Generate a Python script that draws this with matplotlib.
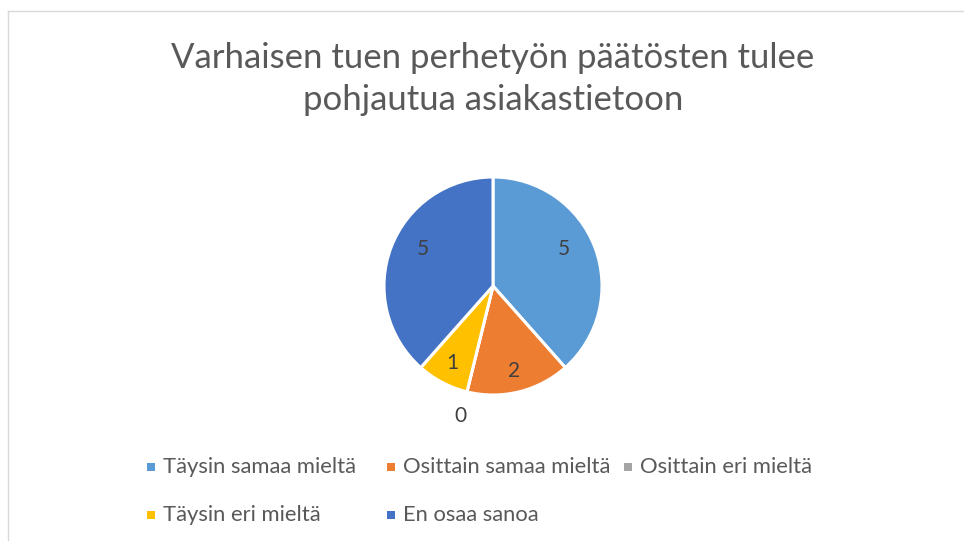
import matplotlib
matplotlib.use("Agg")
import matplotlib.pyplot as plt
from matplotlib.patches import Rectangle
from matplotlib.lines import Line2D
import numpy as np

title = "Varhaisen tuen perhetyön päätösten tulee\npohjautua asiakastietoon"
categories = ["Täysin samaa mieltä", "Osittain samaa mieltä", "Osittain eri mieltä",
              "Täysin eri mieltä", "En osaa sanoa"]
values = [5, 2, 0, 1, 5]
colors = ["#5B9BD5", "#ED7D31", "#A5A5A5", "#FFC000", "#4472C4"]

W, H = 964, 541
fig = plt.figure(figsize=(W / 100, H / 100), dpi=100)
fig.patch.set_facecolor("white")

# chart border (thin gray)
fig.add_artist(Line2D([7.5 / W, 7.5 / W], [0, 1 - 10.5 / H], transform=fig.transFigure,
                      color="#D9D9D9", lw=1.0))
fig.add_artist(Line2D([7.5 / W, 1], [1 - 10.5 / H, 1 - 10.5 / H], transform=fig.transFigure,
                      color="#D9D9D9", lw=1.0))

FONT = ["Lato", "DejaVu Sans"]
TXT = "#595959"

fig.text(493 / W, 1 - 79 / H, title, ha="center", va="center", fontsize=25,
         color=TXT, family=FONT, fontweight="normal", linespacing=1.38)

# pie axes
cx, cy, R = 493, 286, 109
side = 2.5 * R
ax = fig.add_axes([(cx - side / 2) / W, (H - cy - side / 2) / H, side / W, side / H])
wedges, _ = ax.pie(values, colors=colors, startangle=90, counterclock=False,
                   wedgeprops=dict(edgecolor="white", linewidth=2.2))
total = sum(values)
for w, v in zip(wedges, values):
    mid = (w.theta1 + w.theta2) / 2
    if v == 0:
        r = 1.23
    elif v / total > 0.3:
        r = 0.73
        # pull large-slice labels slightly toward the vertical like Excel does
        mid += 7 if np.cos(np.deg2rad(mid)) > 0 else -7
    else:
        r = 0.80
    ang = np.deg2rad(mid)
    ax.text(r * np.cos(ang), r * np.sin(ang), str(v), ha="center", va="center",
            fontsize=15, color="#404040", family=FONT)

# legend (row-major, uniform columns)
col_x = [147, 387, 624]
row_y = [467, 515]
for i, (lab, c) in enumerate(zip(categories, colors)):
    r, k = divmod(i, 3)
    x, y = col_x[k], row_y[r]
    fig.add_artist(Rectangle((x / W, (H - y - 4) / H), 8 / W, 8 / H,
                             transform=fig.transFigure, facecolor=c, edgecolor="none"))
    fig.text((x + 16) / W, 1 - y / H, lab, ha="left", va="center", fontsize=15.8,
             color=TXT, family=FONT)

fig.savefig("out.png", dpi=100)
